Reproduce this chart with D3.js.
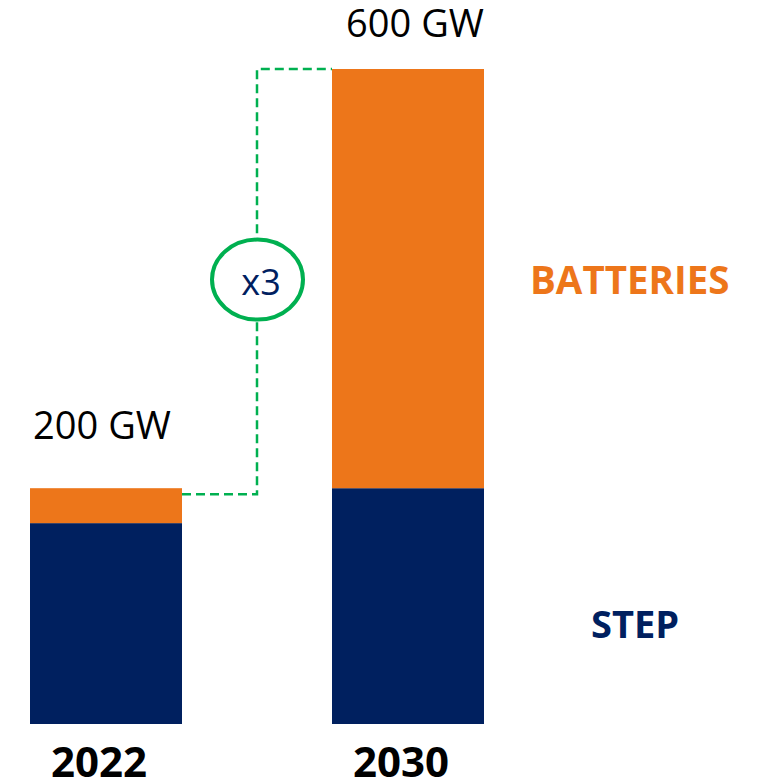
<!DOCTYPE html>
<html>
<head>
<meta charset="utf-8">
<script src="https://cdn.jsdelivr.net/npm/d3@7"></script>
<style>
  body { margin: 0; background: #fff; }
  svg { display: block; font-family: "Open Sans", sans-serif; }
</style>
</head>
<body>
<svg class="chart"></svg>
<script>
let width = 762, height = 781;

// values (GW)
let years = ["2022", "2030"];
let step = [184, 216];
let batteries = [32, 384];
let totalLabels = ["200 GW", "600 GW"];
let multiplier = "x3";

let navy = "#00205f", orange = "#ed761a", green = "#00b050";

let svg = d3.select(".chart")
  .attr("width", width)
  .attr("height", height);

let x = d3.scaleBand()
  .domain(years)
  .range([30, 484])
  .paddingInner(150 / 302)
  .paddingOuter(0);

let y = d3.scaleLinear()
  .domain([0, 600])
  .range([724, 69]);

let rows = years.map((yr, i) => ({ year: yr, step: step[i], batt: batteries[i], label: totalLabels[i] }));

// step (bottom)
svg.selectAll("rect.step")
  .data(rows)
  .enter().append("rect")
  .attr("class", "step")
  .attr("x", d => x(d.year))
  .attr("y", d => y(d.step))
  .attr("width", x.bandwidth())
  .attr("height", d => y(0) - y(d.step))
  .style("fill", navy);

// batteries (top)
svg.selectAll("rect.batt")
  .data(rows)
  .enter().append("rect")
  .attr("class", "batt")
  .attr("x", d => x(d.year))
  .attr("y", d => y(d.step + d.batt))
  .attr("width", x.bandwidth())
  .attr("height", d => y(d.step) - y(d.step + d.batt))
  .style("fill", orange);

// total labels
let labelDx = [-4, 7], labelDy = [-49, -32];
svg.selectAll("text.total")
  .data(rows)
  .enter().append("text")
  .attr("class", "total")
  .attr("x", (d, i) => x(d.year) + x.bandwidth() / 2 + labelDx[i])
  .attr("y", (d, i) => y(d.step + d.batt) + labelDy[i])
  .attr("text-anchor", "middle")
  .style("font-size", "38px")
  .style("fill", "#000")
  .text(d => d.label);

// year labels
svg.selectAll("text.year")
  .data(rows)
  .enter().append("text")
  .attr("class", "year")
  .attr("x", d => x(d.year) + x.bandwidth() / 2 - 7)
  .attr("y", 777)
  .attr("text-anchor", "middle")
  .style("font-size", "42px")
  .style("font-weight", "bold")
  .style("fill", "#000")
  .text(d => d.year);

// dashed connector
let x0 = x(years[0]) + x.bandwidth();
let x1 = x(years[1]);
let xm = (x0 + x1) / 2;
let yLow = y(rows[0].step + rows[0].batt) + 6;
let yHigh = y(rows[1].step + rows[1].batt);

svg.append("path")
  .attr("d", d3.line()([[x0, yLow], [xm, yLow], [xm, yHigh], [x1, yHigh]]))
  .style("fill", "none")
  .style("stroke", green)
  .style("stroke-width", 2.5)
  .style("stroke-dasharray", "9,5");

// multiplier bubble
let cy = (yLow + yHigh) / 2 - 2;
svg.append("ellipse")
  .attr("cx", xm + 0.5)
  .attr("cy", cy)
  .attr("rx", 45.5)
  .attr("ry", 40)
  .style("fill", "#fff")
  .style("stroke", green)
  .style("stroke-width", 4);

svg.append("text")
  .attr("x", xm + 4)
  .attr("y", cy + 15)
  .attr("text-anchor", "middle")
  .style("font-size", "36px")
  .style("fill", navy)
  .text(multiplier);

// series labels
svg.append("text")
  .attr("x", 530)
  .attr("y", 294)
  .style("font-size", "38.5px")
  .style("font-weight", "bold")
  .style("fill", orange)
  .text("BATTERIES");

svg.append("text")
  .attr("x", 591)
  .attr("y", 638)
  .style("font-size", "38px")
  .style("font-weight", "bold")
  .style("fill", navy)
  .text("STEP");
</script>
</body>
</html>
